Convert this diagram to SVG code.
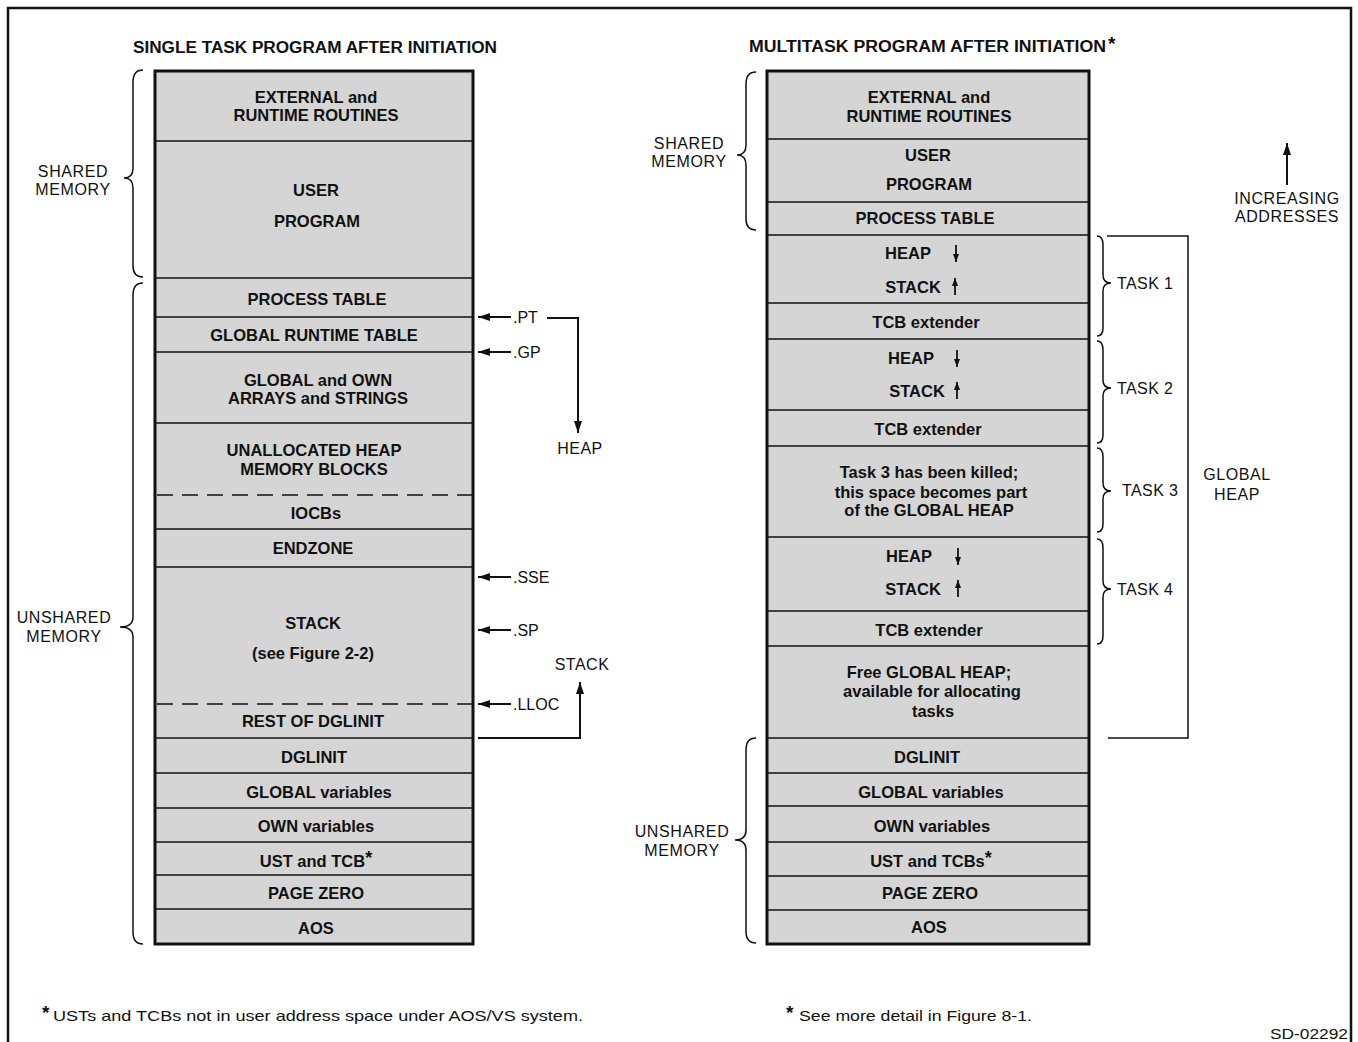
<svg xmlns="http://www.w3.org/2000/svg" width="1358" height="1042" viewBox="0 0 1358 1042">
<style>
.bg{fill:#ffffff}
.cell{fill:#d5d5d5;stroke:none}
.div{stroke:#111;stroke-width:1.6;fill:none}
.dash{stroke:#111;stroke-width:1.6;fill:none;stroke-dasharray:16,9}
.outline{stroke:#111;stroke-width:3;fill:none}
.t{font-family:"Liberation Sans",Arial,sans-serif;font-weight:bold;font-size:16.5px;text-anchor:middle;fill:#111}
.lbl{font-family:"Liberation Sans",Arial,sans-serif;font-size:16px;fill:#111}
.mid{text-anchor:middle}
.title{font-family:"Liberation Sans",Arial,sans-serif;font-weight:bold;font-size:16px;fill:#111}
.foot{font-family:"Liberation Sans",Arial,sans-serif;font-size:15px;fill:#111}
.star{font-family:"Liberation Sans",Arial,sans-serif;font-weight:bold;font-size:19px;fill:#111}
.brace{fill:none;stroke:#111;stroke-width:1.5}
.conn{fill:none;stroke:#111;stroke-width:2}
.small{fill:none;stroke:#111;stroke-width:1.8}
.frame{fill:none;stroke:#111;stroke-width:2.5}
</style>
<defs>
<marker id="ah" viewBox="0 0 12 8" refX="12" refY="4" markerWidth="12" markerHeight="8" markerUnits="userSpaceOnUse" orient="auto"><path d="M0,0 L12,4 L0,8 z" fill="#111"/></marker>
<marker id="sh" viewBox="0 0 8 6" refX="8" refY="3" markerWidth="8" markerHeight="6" markerUnits="userSpaceOnUse" orient="auto"><path d="M0,0 L8,3 L0,6 z" fill="#111"/></marker>
</defs>
<rect class="bg" x="0" y="0" width="1358" height="1042"/>
<path class="frame" d="M8,1042 V8 H1351 V1042"/>

<text class="title" x="133" y="53" textLength="364" lengthAdjust="spacingAndGlyphs">SINGLE TASK PROGRAM AFTER INITIATION</text>
<text class="title" x="749" y="52" textLength="357" lengthAdjust="spacingAndGlyphs">MULTITASK PROGRAM AFTER INITIATION</text>
<text class="star" x="1108" y="50">*</text>

<!-- LEFT COLUMN -->
<g id="left-column">
<g id="L-external"><rect class="cell" x="155" y="71" width="318" height="70"/><text class="t" x="316" y="103">EXTERNAL and</text><text class="t" x="316" y="121">RUNTIME ROUTINES</text></g>
<g id="L-user"><rect class="cell" x="155" y="141" width="318" height="137"/><text class="t" x="316" y="196">USER</text><text class="t" x="317" y="227">PROGRAM</text></g>
<g id="L-process"><rect class="cell" x="155" y="278" width="318" height="39"/><text class="t" x="317" y="305">PROCESS TABLE</text></g>
<g id="L-grt"><rect class="cell" x="155" y="317" width="318" height="35"/><text class="t" x="314" y="341">GLOBAL RUNTIME TABLE</text></g>
<g id="L-arrays"><rect class="cell" x="155" y="352" width="318" height="71"/><text class="t" x="318" y="386">GLOBAL and OWN</text><text class="t" x="318" y="404">ARRAYS and STRINGS</text></g>
<g id="L-unalloc"><rect class="cell" x="155" y="423" width="318" height="72"/><text class="t" x="314" y="456">UNALLOCATED HEAP</text><text class="t" x="314" y="475">MEMORY BLOCKS</text></g>
<g id="L-iocbs"><rect class="cell" x="155" y="495" width="318" height="34"/><text class="t" x="316" y="519">IOCBs</text></g>
<g id="L-endzone"><rect class="cell" x="155" y="529" width="318" height="38"/><text class="t" x="313" y="554">ENDZONE</text></g>
<g id="L-stack"><rect class="cell" x="155" y="567" width="318" height="137"/><text class="t" x="313" y="629">STACK</text><text class="t" x="313" y="659">(see Figure 2-2)</text></g>
<g id="L-rest"><rect class="cell" x="155" y="704" width="318" height="34"/><text class="t" x="313" y="727">REST OF DGLINIT</text></g>
<g id="L-dglinit"><rect class="cell" x="155" y="738" width="318" height="35"/><text class="t" x="314" y="763">DGLINIT</text></g>
<g id="L-globalvars"><rect class="cell" x="155" y="773" width="318" height="35"/><text class="t" x="319" y="798">GLOBAL variables</text></g>
<g id="L-ownvars"><rect class="cell" x="155" y="808" width="318" height="34"/><text class="t" x="316" y="832">OWN variables</text></g>
<g id="L-ust"><rect class="cell" x="155" y="842" width="318" height="33"/><text class="t" x="316" y="867">UST and TCB<tspan font-size="18" dy="-3">*</tspan></text></g>
<g id="L-pagezero"><rect class="cell" x="155" y="875" width="318" height="34"/><text class="t" x="316" y="899">PAGE ZERO</text></g>
<g id="L-aos"><rect class="cell" x="155" y="909" width="318" height="35"/><text class="t" x="316" y="934">AOS</text></g>
<path class="div" d="M155,141H473M155,278H473M155,317H473M155,352H473M155,423H473M155,529H473M155,567H473M155,738H473M155,773H473M155,808H473M155,842H473M155,875H473M155,909H473"/>
<path class="dash" d="M157,495H473M157,704H473"/>
<rect class="outline" x="155" y="71" width="318" height="873"/>
</g>

<!-- RIGHT COLUMN -->
<g id="right-column">
<g id="R-external"><rect class="cell" x="767" y="71" width="322" height="68"/><text class="t" x="929" y="103">EXTERNAL and</text><text class="t" x="929" y="122">RUNTIME ROUTINES</text></g>
<g id="R-user"><rect class="cell" x="767" y="139" width="322" height="63"/><text class="t" x="928" y="161">USER</text><text class="t" x="929" y="190">PROGRAM</text></g>
<g id="R-process"><rect class="cell" x="767" y="202" width="322" height="33"/><text class="t" x="925" y="224">PROCESS TABLE</text></g>
<g id="R-t1-hs"><rect class="cell" x="767" y="235" width="322" height="68"/><text class="t" x="908" y="259">HEAP</text><text class="t" x="913" y="293">STACK</text><path class="small" d="M956,245V262" marker-end="url(#sh)"/><path class="small" d="M955,295V278" marker-end="url(#sh)"/></g>
<g id="R-t1-tcb"><rect class="cell" x="767" y="303" width="322" height="36"/><text class="t" x="926" y="328">TCB extender</text></g>
<g id="R-t2-hs"><rect class="cell" x="767" y="339" width="322" height="71"/><text class="t" x="911" y="364">HEAP</text><text class="t" x="917" y="397">STACK</text><path class="small" d="M957,350V367" marker-end="url(#sh)"/><path class="small" d="M957,399V382" marker-end="url(#sh)"/></g>
<g id="R-t2-tcb"><rect class="cell" x="767" y="410" width="322" height="36"/><text class="t" x="928" y="435">TCB extender</text></g>
<g id="R-t3"><rect class="cell" x="767" y="446" width="322" height="91"/><text class="t" x="929" y="478">Task 3 has been killed;</text><text class="t" x="931" y="498">this space becomes part</text><text class="t" x="929" y="516">of the GLOBAL HEAP</text></g>
<g id="R-t4-hs"><rect class="cell" x="767" y="537" width="322" height="74"/><text class="t" x="909" y="562">HEAP</text><text class="t" x="913" y="595">STACK</text><path class="small" d="M958,548V565" marker-end="url(#sh)"/><path class="small" d="M958,597V580" marker-end="url(#sh)"/></g>
<g id="R-t4-tcb"><rect class="cell" x="767" y="611" width="322" height="35"/><text class="t" x="929" y="636">TCB extender</text></g>
<g id="R-free"><rect class="cell" x="767" y="646" width="322" height="92"/><text class="t" x="929" y="678">Free GLOBAL HEAP;</text><text class="t" x="932" y="697">available for allocating</text><text class="t" x="933" y="717">tasks</text></g>
<g id="R-dglinit"><rect class="cell" x="767" y="738" width="322" height="35"/><text class="t" x="927" y="763">DGLINIT</text></g>
<g id="R-globalvars"><rect class="cell" x="767" y="773" width="322" height="33"/><text class="t" x="931" y="798">GLOBAL variables</text></g>
<g id="R-ownvars"><rect class="cell" x="767" y="806" width="322" height="36"/><text class="t" x="932" y="832">OWN variables</text></g>
<g id="R-ust"><rect class="cell" x="767" y="842" width="322" height="34"/><text class="t" x="931" y="867">UST and TCBs<tspan font-size="18" dy="-3">*</tspan></text></g>
<g id="R-pagezero"><rect class="cell" x="767" y="876" width="322" height="34"/><text class="t" x="930" y="899">PAGE ZERO</text></g>
<g id="R-aos"><rect class="cell" x="767" y="910" width="322" height="34"/><text class="t" x="929" y="933">AOS</text></g>
<path class="div" d="M767,139H1089M767,202H1089M767,235H1089M767,303H1089M767,339H1089M767,410H1089M767,446H1089M767,537H1089M767,611H1089M767,646H1089M767,738H1089M767,773H1089M767,806H1089M767,842H1089M767,876H1089M767,910H1089"/>
<rect class="outline" x="767" y="71" width="322" height="873"/>
</g>

<!-- LABELS -->
<g id="labels">
<text class="lbl mid" x="73" y="177" letter-spacing="0.6">SHARED</text>
<text class="lbl mid" x="73" y="195" letter-spacing="0.6">MEMORY</text>
<text class="lbl mid" x="64" y="623" letter-spacing="0.6">UNSHARED</text>
<text class="lbl mid" x="64" y="642" letter-spacing="0.6">MEMORY</text>
<text class="lbl mid" x="689" y="149" letter-spacing="0.6">SHARED</text>
<text class="lbl mid" x="689" y="167" letter-spacing="0.6">MEMORY</text>
<text class="lbl mid" x="682" y="837" letter-spacing="0.6">UNSHARED</text>
<text class="lbl mid" x="682" y="856" letter-spacing="0.6">MEMORY</text>
<text class="lbl" x="1117" y="289" letter-spacing="0.4">TASK 1</text>
<text class="lbl" x="1117" y="394" letter-spacing="0.4">TASK 2</text>
<text class="lbl" x="1122" y="496" letter-spacing="0.4">TASK 3</text>
<text class="lbl" x="1117" y="595" letter-spacing="0.4">TASK 4</text>
<text class="lbl mid" x="1237" y="480" letter-spacing="0.6">GLOBAL</text>
<text class="lbl mid" x="1237" y="500" letter-spacing="0.6">HEAP</text>
<text class="lbl mid" x="1287" y="204" letter-spacing="0.6">INCREASING</text>
<text class="lbl mid" x="1287" y="222" letter-spacing="0.6">ADDRESSES</text>
<text class="lbl" x="513" y="323">.PT</text>
<text class="lbl" x="513" y="358">.GP</text>
<text class="lbl" x="513" y="583">.SSE</text>
<text class="lbl" x="513" y="636">.SP</text>
<text class="lbl" x="513" y="710">.LLOC</text>
<text class="lbl mid" x="580" y="454" letter-spacing="0.5">HEAP</text>
<text class="lbl mid" x="582" y="670" letter-spacing="0.5">STACK</text>
</g>

<!-- CONNECTORS -->
<g id="connectors">
<path class="conn" d="M511,317H478" marker-end="url(#ah)"/>
<path class="conn" d="M511,352H478" marker-end="url(#ah)"/>
<path class="conn" d="M511,577H478" marker-end="url(#ah)"/>
<path class="conn" d="M511,630H478" marker-end="url(#ah)"/>
<path class="conn" d="M511,704H478" marker-end="url(#ah)"/>
<path class="conn" d="M547,318H578V433" marker-end="url(#ah)"/>
<path class="conn" d="M478,738H580V682" marker-end="url(#ah)"/>
<path class="conn" d="M1287,185V143" marker-end="url(#ah)"/>
<path class="brace" d="M1107,236H1188V738H1108"/>
<path class="brace" d="M143,70Q133,70 133,82V168Q133,178 124,178Q133,178 133,188V266Q133,277 143,277"/>
<path class="brace" d="M143,283Q133,283 133,295V617Q133,627 120,627Q133,627 133,637V932Q133,944 143,944"/>
<path class="brace" d="M756,72Q746,72 746,84V145Q746,155 737,155Q746,155 746,165V219Q746,230 756,230"/>
<path class="brace" d="M756,738Q746,738 746,750V830Q746,840 735,840Q746,840 746,850V931Q746,943 756,943"/>
<path class="brace" d="M1097,236Q1103,236 1103,245V275Q1103,283 1111,283Q1103,283 1103,291V328Q1103,336 1097,336"/>
<path class="brace" d="M1097,341Q1103,341 1103,350V380Q1103,388 1111,388Q1103,388 1103,396V435Q1103,443 1097,443"/>
<path class="brace" d="M1097,448Q1103,448 1103,457V483Q1103,491 1111,491Q1103,491 1103,499V524Q1103,532 1097,532"/>
<path class="brace" d="M1097,539Q1103,539 1103,548V581Q1103,589 1111,589Q1103,589 1103,597V636Q1103,644 1097,644"/>
</g>

<!-- FOOTNOTES -->
<g id="footnotes">
<text class="star" x="42" y="1019" font-size="17">*</text>
<text class="foot" x="53" y="1021" textLength="530" lengthAdjust="spacingAndGlyphs">USTs and TCBs not in user address space under AOS/VS system.</text>
<text class="star" x="786" y="1019" font-size="17">*</text>
<text class="foot" x="799" y="1021" textLength="233" lengthAdjust="spacingAndGlyphs">See more detail in Figure 8-1.</text>
<text class="foot" x="1270" y="1039" textLength="78" lengthAdjust="spacingAndGlyphs">SD-02292</text>
</g>
</svg>
